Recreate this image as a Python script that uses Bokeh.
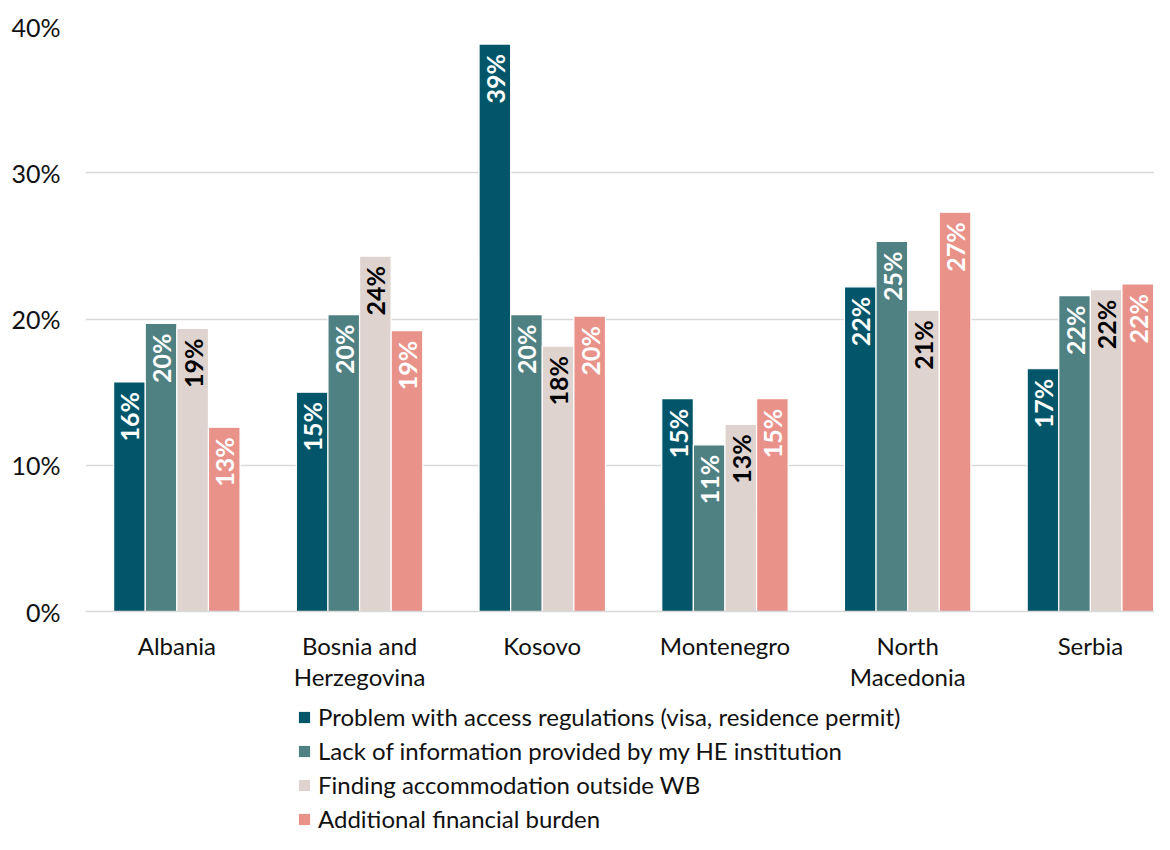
import math
from bokeh.plotting import figure
from bokeh.layouts import column
from bokeh.models import (Range1d, FixedTicker, Legend, LegendItem, ColumnDataSource,
                          PrintfTickFormatter)
from bokeh.core.properties import value
from bokeh.embed import file_html
from bokeh.resources import INLINE

countries = ["Albania", "Bosnia and\nHerzegovina", "Kosovo", "Montenegro", "North\nMacedonia", "Serbia"]
series_names = ["Problem with access regulations (visa, residence permit)",
                "Lack of information provided by my HE institution",
                "Finding accommodation outside WB",
                "Additional financial burden"]
problem = [15.7, 15.0, 38.8, 14.55, 22.2, 16.6]
lack = [19.7, 20.3, 20.3, 11.4, 25.3, 21.6]
finding = [19.35, 24.3, 18.15, 12.8, 20.6, 22.0]
additional = [12.6, 19.2, 20.2, 14.55, 27.3, 22.4]
y_ticks = [0, 10, 20, 30, 40]

series_values = [problem, lack, finding, additional]
colors = ["#03566A", "#4F8082", "#DED3CF", "#E8928A"]
label_colors = ["white", "white", "black", "white"]

FONT = "Lato"
bar_w = 0.173
offsets = [-1.5 * bar_w, -0.5 * bar_w, 0.5 * bar_w, 1.5 * bar_w]

p = figure(width=1154, height=700, output_backend="svg", toolbar_location=None,
           x_range=Range1d(-0.5, 5.351), y_range=Range1d(0, 40),
           min_border_left=85, min_border_right=0, min_border_top=26, min_border_bottom=89)
p.outline_line_color = None
p.background_fill_color = "white"

for i, vals in enumerate(series_values):
    xs = [k + offsets[i] for k in range(len(countries))]
    src = ColumnDataSource(dict(x=xs, top=vals, lab=[f"{v:.0f}%" for v in vals]))
    p.vbar(x="x", top="top", width=bar_w, bottom=0, source=src,
           fill_color=colors[i], line_color="white", line_width=1.2)
    p.text(x="x", y="top", text="lab", source=src, angle=math.pi / 2,
           text_align="right", text_baseline="middle", y_offset=10,
           text_font=value(FONT), text_font_style="bold", text_font_size="25px",
           text_color=label_colors[i])

# axes
p.yaxis.ticker = FixedTicker(ticks=y_ticks)
p.yaxis.formatter = PrintfTickFormatter(format="%d%%")
p.yaxis.axis_line_color = None
p.yaxis.major_tick_line_color = None
p.yaxis.minor_tick_line_color = None
p.yaxis.major_label_standoff = 19
p.yaxis.major_label_text_font = FONT
p.yaxis.major_label_text_font_size = "25px"
p.yaxis.major_label_text_color = "#111111"

p.xaxis.ticker = FixedTicker(ticks=list(range(len(countries))))
p.xaxis.major_label_overrides = {k: c for k, c in enumerate(countries)}
p.xaxis.axis_line_color = "#D9D9D9"
p.xaxis.axis_line_width = 1.5
p.xaxis.major_tick_line_color = None
p.xaxis.minor_tick_line_color = None
p.xaxis.major_label_standoff = 13
p.xaxis.major_label_text_font = FONT
p.xaxis.major_label_text_font_size = "24px"
p.xaxis.major_label_text_line_height = 1.1
p.xaxis.major_label_text_color = "#111111"

p.xgrid.grid_line_color = None
p.ygrid.grid_line_color = "#D9D9D9"
p.ygrid.grid_line_width = 1.5

# legend panel (separate figure below the chart; its frame aligns with the chart's)
lg = figure(width=1154, height=134, output_backend="svg", toolbar_location=None,
            x_range=Range1d(0, 1), y_range=Range1d(0, 1), x_axis_type=None, y_axis_type=None,
            min_border_left=0, min_border_right=0, min_border_top=0, min_border_bottom=0)
lg.outline_line_color = None
lg.xgrid.grid_line_color = None
lg.ygrid.grid_line_color = None
items = []
for name, col in zip(series_names, colors):
    # swatch renderer placed outside the visible range; only its legend entry shows
    r = lg.vbar(x=[5], top=[1], width=0.1, fill_color=col, line_color=col, line_width=0)
    items.append(LegendItem(label=name, renderers=[r]))
legend = Legend(items=items, location=(212, 1), orientation="vertical",
                glyph_width=14, glyph_height=14, label_standoff=7,
                label_text_font=FONT, label_text_font_size="24px", label_text_color="#111111",
                label_height=28, spacing=5, padding=0, margin=0,
                border_line_color=None, background_fill_alpha=0)
lg.add_layout(legend, "center")

layout = column(p, lg, spacing=0)
open("out.html", "w").write(file_html(layout, INLINE))
